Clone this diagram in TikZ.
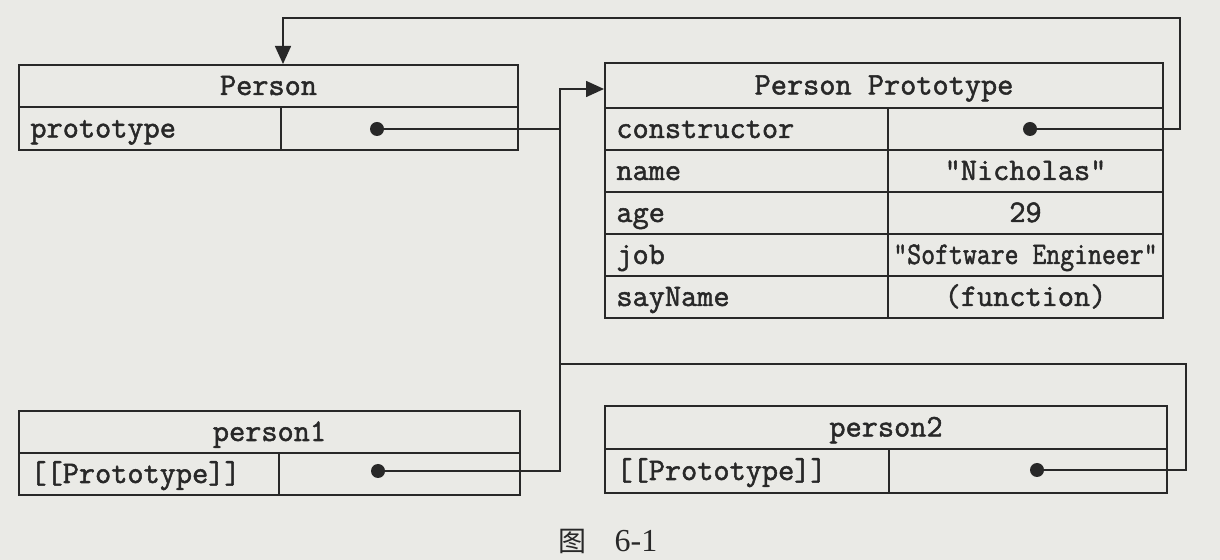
\documentclass[tikz,border=0pt]{standalone}
\usepackage{fontspec}
\usepackage{graphicx}
\newfontfamily\codefont{Latin Modern Mono}[FakeBold=1.6]
\newfontfamily\cjk{Noto Sans CJK SC}
\newfontfamily\capfont{Liberation Serif}
\usetikzlibrary{arrows.meta,calc}
\definecolor{paper}{RGB}{234,234,230}
\definecolor{ink}{RGB}{40,40,40}
\tikzset{
  cell/.style={draw=ink, line width=1pt, anchor=north west, inner sep=0pt,
    minimum width=#1, text=ink, text height=11pt, text depth=2pt,
    font=\codefont\fontsize{15.7}{18}\selectfont},
  keycell/.style={cell=#1},
  dot/.style={circle, fill=ink, inner sep=0pt, minimum size=7pt},
  wire/.style={draw=ink, line width=0.8pt},
  arr/.style={wire, -{Triangle[length=9pt,width=8pt]}},
  klabel/.style={anchor=west, xshift=6pt, inner sep=0pt, text=ink,
    text height=11pt, text depth=2pt,
    font=\codefont\fontsize{15.7}{18}\selectfont},
}
\begin{document}
\begin{tikzpicture}[x=0.5pt,y=-0.5pt]
\fill[paper] (0,0) rectangle (1220,560);
\useasboundingbox (0,0) rectangle (1220,560);

% Person
\node[cell=249.5pt, minimum height=21pt] (pershead) at (18,64) {Person};
\node[keycell=131pt, minimum height=21.5pt, label={[klabel]west:prototype}] (perkey) at (18,106) {};
\node[cell=118.5pt, minimum height=21.5pt] (perval) at (280,106) {};

% Person Prototype
\node[cell=279pt, minimum height=22.5pt] (protohead) at (604,62) {Person Prototype};
\node[keycell=141.5pt, minimum height=21pt, label={[klabel]west:constructor}] (k1) at (604,107) {};
\node[cell=137.5pt, minimum height=21pt] (v1) at (887,107) {};
\node[keycell=141.5pt, minimum height=21pt, label={[klabel]west:name}] (k2) at (604,149) {};
\node[cell=137.5pt, minimum height=21pt] (v2) at (887,149) {"Nicholas"};
\node[keycell=141.5pt, minimum height=21pt, label={[klabel]west:age}] (k3) at (604,191) {};
\node[cell=137.5pt, minimum height=21pt] (v3) at (887,191) {29};
\node[keycell=141.5pt, minimum height=21pt, label={[klabel]west:job}] (k4) at (604,233) {};
\node[cell=137.5pt, minimum height=21pt] (v4) at (887,233) {\scalebox{0.86}[1]{"Software Engineer"}};
\node[keycell=141.5pt, minimum height=21pt, label={[klabel]west:sayName}] (k5) at (604,275) {};
\node[cell=137.5pt, minimum height=21pt] (v5) at (887,275) {(function)};

% person1
\node[cell=250.5pt, minimum height=21pt] (p1head) at (18,410) {person1};
\node[keycell=130pt, minimum height=21pt, label={[klabel]west:[[Prototype]]}] (p1key) at (18,452) {};
\node[cell=120.5pt, minimum height=21pt] (p1val) at (278,452) {};

% person2
\node[cell=281pt, minimum height=21.5pt] (p2head) at (604,405) {person2};
\node[keycell=142pt, minimum height=22pt, label={[klabel]west:[[Prototype]]}] (p2key) at (604,448) {};
\node[cell=139pt, minimum height=22pt] (p2val) at (888,448) {};

% dots
\node[dot] (pdot) at (377,129) {};
\node[dot] (cdot) at (1030,129) {};
\node[dot] (p1dot) at (378,471) {};
\node[dot] (p2dot) at (1037,470) {};

% routing points
\coordinate (bus) at (560,89);
\coordinate (topr) at (1180,18);
\coordinate (p2r) at (1186,364);

% connectors
\draw[arr] (p1dot.center) -- (p1dot.center -| bus) -- (bus) -- (bus -| protohead.west);
\draw[wire] (pdot.center) -- (pdot.center -| bus);
\draw[wire] (p2dot.center) -| (p2r) -- (p2r -| bus);
\draw[arr] (cdot.center) -| (topr) -| ([xshift=7.25pt]pershead.north);

% caption
\node[text=ink, font=\cjk\fontsize{14}{16}\selectfont] (capa) at (572,541) {图};
\node[text=ink, font=\capfont\fontsize{16}{18}\selectfont] (capb) at (636,541) {6-1};
\end{tikzpicture}
\end{document}
